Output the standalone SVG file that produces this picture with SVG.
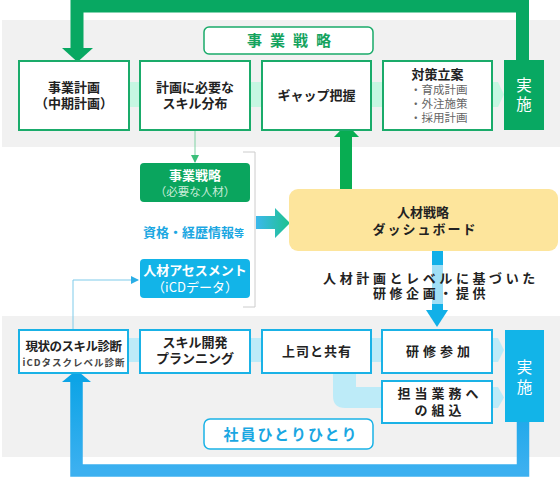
<svg xmlns="http://www.w3.org/2000/svg" width="560" height="477" viewBox="0 0 560 477">
<defs>
<style>
text{font-family:"Noto Sans CJK JP","Noto Sans",sans-serif;}
.panel{fill:#f1f1f1;}
.gbox{fill:#fff;stroke:#1aab6a;stroke-width:2;}
.bbox{fill:#fff;stroke:#1ab2e6;stroke-width:2;}
.t{font-size:13px;font-weight:bold;fill:#222;text-anchor:middle;}
.sub{font-size:11.5px;fill:#666;}
.w{fill:#fff;text-anchor:middle;}
</style>
<linearGradient id="cg" x1="0" y1="0" x2="1" y2="0">
<stop offset="0" stop-color="#3cb8ec"/>
<stop offset="1" stop-color="#1fc28e"/>
</linearGradient>
<linearGradient id="bg" x1="0" y1="0" x2="0" y2="1">
<stop offset="0" stop-color="#0da4e6"/>
<stop offset="1" stop-color="#3cb0f0"/>
</linearGradient>
<marker id="ag" viewBox="0 0 8 8" refX="7" refY="4" markerWidth="8" markerHeight="8" orient="auto" markerUnits="userSpaceOnUse"><path d="M0,0 L8,4 L0,8 Z" fill="#3cbf7a"/></marker>
<marker id="ab" viewBox="0 0 8 8" refX="7" refY="4" markerWidth="8" markerHeight="8" orient="auto" markerUnits="userSpaceOnUse"><path d="M0,0 L8,4 L0,8 Z" fill="#2aaee6"/></marker>
</defs>
<rect width="560" height="477" fill="#fff"/>
<rect class="panel" x="2" y="20" width="558" height="127"/>
<rect class="panel" x="2" y="316" width="558" height="141"/>
<polygon points="100,82 498,82 504,94.5 498,107 100,107" fill="#c6f7e2"/>
<polygon points="100,338 498,338 504,350 498,362 100,362" fill="#bdebf8"/>
<path d="M333,350 L356,350 L356,387 L498,387 L504,397.5 L498,408 L345,408 Q333,408 333,396 Z" fill="#bdebf8"/>

<g id="connectors">
<path d="M77,50 L77,6 L522.5,6 L522.5,62" fill="none" stroke="#08a862" stroke-width="13"/>
<polygon points="62,48 93,48 77.5,62" fill="#08a862"/>
<rect x="340" y="136" width="12" height="54" fill="#08ad52"/>
<polygon points="334,137 359,137 346.5,124" fill="#08ad52"/>
<line x1="195" y1="131" x2="195" y2="162" stroke="#7fd3a4" stroke-width="1" marker-end="url(#ag)"/>
<polyline points="73,329 73,280 138,280" fill="none" stroke="#7fcbea" stroke-width="1" marker-end="url(#ab)"/>
<path d="M243,152 L255,152 L255,307 L243,307" fill="none" stroke="#cccccc" stroke-width="1"/>
<polygon points="256,216 275,216 275,208 290,223 275,238 275,229 256,229" fill="url(#cg)"/>
<rect x="432" y="251" width="11" height="62" fill="#12b0e8"/>
<polygon points="426,310 448,310 437,327" fill="#12b0e8"/>
<path d="M523,422 L523,470.5 L76.5,470.5 L76.5,380" fill="none" stroke="url(#bg)" stroke-width="12.5"/>
<polygon points="62,382 91,382 76.5,370" fill="#0da4e6"/>
</g>

<g id="label-jigyo">
<rect x="204" y="27" width="169" height="27" rx="5" fill="#fff" stroke="#1aab6a" stroke-width="1.5"/>
<text x="293" y="46" font-size="15" font-weight="bold" fill="#14a35e" text-anchor="middle" letter-spacing="8">事業戦略</text>
</g>

<g id="n-keikaku">
<rect class="gbox" x="19" y="61" width="110" height="69"/>
<text class="t" x="74" y="92">事業計画</text>
<text class="t" x="74" y="108">（中期計画）</text>
</g>
<g id="n-skill">
<rect class="gbox" x="140" y="61" width="110" height="69"/>
<text class="t" x="195" y="92">計画に必要な</text>
<text class="t" x="195" y="108">スキル分布</text>
</g>
<g id="n-gap">
<rect class="gbox" x="262" y="61" width="109" height="69"/>
<text class="t" x="316.5" y="100">ギャップ把握</text>
</g>
<g id="n-taisaku">
<rect class="gbox" x="383" y="61" width="109" height="69"/>
<text class="t" x="437.5" y="79">対策立案</text>
<text class="sub" x="410" y="94">・育成計画</text>
<text class="sub" x="410" y="108">・外注施策</text>
<text class="sub" x="410" y="122">・採用計画</text>
</g>
<g id="n-jisshi1">
<rect x="504" y="60" width="40" height="70" fill="#08a862"/>
<text class="w" x="524" y="91" font-size="15.5">実</text>
<text class="w" x="524" y="110" font-size="15.5">施</text>
</g>

<g id="n-senryaku">
<rect x="140" y="163" width="110" height="39" rx="4" fill="#0aa55e"/>
<text class="w" x="195" y="180" font-size="13" font-weight="bold">事業戦略</text>
<text x="195" y="196" font-size="11.5" fill="#c9ecd9" text-anchor="middle">（必要な人材）</text>
</g>
<g id="n-shikaku">
<text x="143" y="237" font-size="13" font-weight="bold" fill="#1aa7e2">資格・経歴情報<tspan font-size="10">等</tspan></text>
</g>
<g id="n-assess">
<rect x="140" y="259" width="110" height="39" rx="4" fill="#12b4e8"/>
<text class="w" x="195" y="275" font-size="13" font-weight="bold">人材アセスメント</text>
<text class="w" x="195" y="292" font-size="13">（iCDデータ）</text>
</g>

<g id="n-dashboard">
<rect x="289" y="189" width="269" height="62" rx="9" fill="#fde59c"/>
<text class="t" x="423" y="217">人材戦略</text>
<text class="t" x="425" y="234" letter-spacing="2">ダッシュボード</text>
</g>
<g id="caption">
<rect x="312" y="265" width="226" height="39" fill="#fff" fill-opacity="0.6"/>
<text x="431" y="283" font-size="13" font-weight="bold" fill="#222" text-anchor="middle" letter-spacing="3.6">人材計画とレベルに基づいた</text>
<text x="431" y="298" font-size="13" font-weight="bold" fill="#222" text-anchor="middle" letter-spacing="3.6">研修企画・提供</text>
</g>

<g id="n-genjo">
<rect class="bbox" x="19" y="330" width="109" height="43"/>
<text x="73.5" y="351" font-size="12.5" font-weight="bold" fill="#222" text-anchor="middle" letter-spacing="-0.5">現状のスキル診断</text>
<text x="74" y="366" font-size="9.5" font-weight="bold" fill="#444" text-anchor="middle" letter-spacing="1">iCDタスクレベル診断</text>
</g>
<g id="n-plan">
<rect class="bbox" x="140" y="330" width="110" height="43"/>
<text class="t" x="195" y="347">スキル開発</text>
<text class="t" x="195" y="363">プランニング</text>
</g>
<g id="n-joshi">
<rect class="bbox" x="262" y="330" width="109" height="43"/>
<text class="t" x="317" y="356" letter-spacing="1">上司と共有</text>
</g>
<g id="n-kenshu">
<rect class="bbox" x="382" y="330" width="110" height="43"/>
<text class="t" x="440" y="356" letter-spacing="4">研修参加</text>
</g>
<g id="n-tanto">
<rect class="bbox" x="382" y="381" width="110" height="42"/>
<text class="t" x="440" y="398" letter-spacing="4">担当業務へ</text>
<text class="t" x="440" y="415" letter-spacing="4">の組込</text>
</g>
<g id="n-jisshi2">
<rect x="505" y="330" width="39" height="92" fill="#12b4e8"/>
<text class="w" x="524.5" y="373" font-size="15.5">実</text>
<text class="w" x="524.5" y="393" font-size="15.5">施</text>
</g>
<g id="label-shain">
<rect x="204" y="419" width="169" height="30" rx="6" fill="#fff" stroke="#1ab2e6" stroke-width="1.5"/>
<text x="291" y="440" font-size="15" font-weight="bold" fill="#1aa7e2" text-anchor="middle" letter-spacing="2">社員ひとりひとり</text>
</g>
</svg>
